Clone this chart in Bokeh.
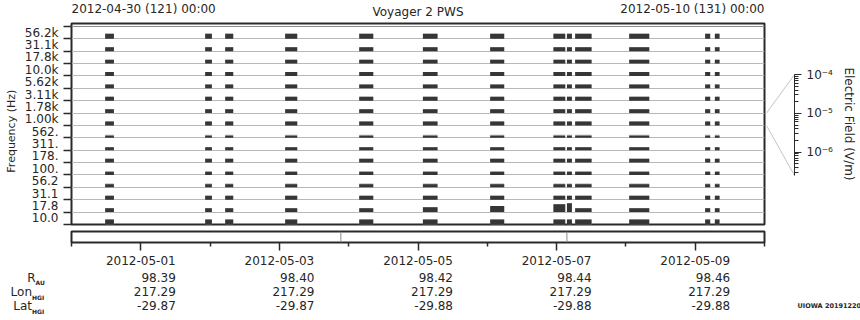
import numpy as np
import pandas as pd
from bokeh.plotting import figure
from bokeh.models import (ColumnDataSource, FixedTicker, Range1d, DatetimeTickFormatter, Span)
from bokeh.core.properties import value
from bokeh.layouts import column, row
from bokeh.embed import file_html
from bokeh.resources import INLINE

# ---------------- data ----------------
CHANNEL_LABELS = ["10.0", "17.8", "31.1", "56.2", "100.", "178.", "311.", "562.",
                  "1.00k", "1.78k", "3.11k", "5.62k", "10.0k", "17.8k", "31.1k", "56.2k"]

BLOCK_START = ["2012-04-30 11:40", "2012-05-01 22:18", "2012-05-02 05:14", "2012-05-03 02:00",
               "2012-05-04 03:39", "2012-05-05 01:42", "2012-05-06 01:00", "2012-05-06 22:55",
               "2012-05-07 03:35", "2012-05-07 06:26", "2012-05-08 01:09", "2012-05-09 03:27",
               "2012-05-09 06:49"]
BLOCK_END = ["2012-04-30 14:41", "2012-05-02 00:37", "2012-05-02 08:00", "2012-05-03 06:10",
             "2012-05-04 08:30", "2012-05-05 06:45", "2012-05-06 05:51", "2012-05-07 02:59",
             "2012-05-07 05:18", "2012-05-07 12:06", "2012-05-08 08:05", "2012-05-09 05:11",
             "2012-05-09 08:25"]

# electric field per block (rows) and channel (columns, 10 Hz .. 56.2 kHz), in uV/m
EFIELD_UV = [
    [2.8, 1.7, 1.7, 1.1, 1.1, 1.7, 1.1, 0.66, 1.7, 1.7, 1.7, 1.7, 1.7, 1.7, 1.7, 2.8],
    [2.8, 1.7, 1.7, 1.1, 1.1, 1.7, 1.1, 0.66, 1.7, 1.7, 1.7, 1.7, 1.7, 1.7, 1.7, 2.8],
    [2.8, 1.7, 1.7, 1.1, 1.1, 1.7, 1.1, 0.66, 1.7, 1.7, 1.7, 1.7, 1.7, 1.7, 1.7, 2.8],
    [2.8, 1.7, 1.7, 1.1, 1.1, 1.7, 1.1, 0.66, 1.7, 1.7, 1.7, 1.7, 1.7, 1.7, 1.7, 2.8],
    [2.8, 1.7, 1.7, 1.1, 1.1, 1.7, 1.1, 0.66, 1.7, 1.7, 1.7, 1.7, 1.7, 1.7, 1.7, 2.8],
    [2.8, 2.8, 1.7, 1.1, 1.1, 1.7, 1.1, 0.66, 1.7, 1.7, 1.7, 1.7, 1.7, 1.7, 1.7, 2.8],
    [2.8, 4.6, 1.7, 1.1, 1.1, 1.7, 1.1, 0.66, 1.7, 1.7, 1.7, 1.7, 1.7, 1.7, 1.7, 2.8],
    [2.8, 12.0, 1.7, 1.1, 1.1, 1.7, 1.1, 0.66, 1.7, 1.7, 1.7, 1.7, 1.7, 1.7, 1.7, 2.8],
    [2.8, 19.0, 1.7, 1.1, 1.1, 1.7, 1.1, 0.66, 1.7, 1.7, 1.7, 1.7, 1.7, 1.7, 1.7, 2.8],
    [2.8, 1.7, 1.7, 1.1, 1.1, 1.7, 1.1, 0.66, 1.7, 1.7, 1.7, 1.7, 1.7, 1.7, 1.7, 2.8],
    [2.8, 1.7, 1.7, 1.1, 1.1, 1.7, 1.1, 0.66, 1.7, 1.7, 1.7, 1.7, 1.7, 1.7, 1.7, 2.8],
    [2.8, 1.7, 1.7, 1.1, 1.1, 1.7, 1.1, 0.66, 1.7, 1.7, 1.7, 1.7, 1.7, 1.7, 1.7, 2.8],
    [2.8, 1.7, 1.7, 1.1, 1.1, 1.7, 1.1, 0.66, 1.7, 1.7, 1.7, 1.7, 1.7, 1.7, 1.7, 2.8],
]
# lighter peak level per channel (drawn in grey behind the dark level), uV/m
PEAK_UV = [2.8, 1.7, 1.7, 1.7, 1.7, 1.7, 1.1, 1.1, 1.7, 1.7, 1.7, 1.7, 1.7, 1.7, 1.7, 2.8]

EPHEM_DATES = ["2012-05-01", "2012-05-03", "2012-05-05", "2012-05-07", "2012-05-09"]
R_AU = ["98.39", "98.40", "98.42", "98.44", "98.46"]
LON_HGI = ["217.29", "217.29", "217.29", "217.29", "217.29"]
LAT_HGI = ["-29.87", "-29.87", "-29.88", "-29.88", "-29.88"]
MINOR_DATES = ["2012-04-30", "2012-05-02", "2012-05-04", "2012-05-06", "2012-05-08", "2012-05-10"]
MARK_TIMES = ["2012-05-03 21:17", "2012-05-07 03:34"]

START_TEXT = "2012-04-30 (121) 00:00"
END_TEXT = "2012-05-10 (131) 00:00"
TITLE_TEXT = "Voyager 2 PWS"
STAMP_TEXT = "UIOWA 20191220"
Y_TITLE = "Frequency (Hz)"
EF_TITLE = "Electric Field (V/m)"

# ---------------- helpers / styling ----------------
def ms(s):
    return pd.Timestamp(s).value / 1e6

FONT = value("DejaVu Sans")
FONT_NAME = "DejaVu Sans"
TXT = "#262626"
DARK = "#363636"
T0, T1 = ms("2012-04-30"), ms("2012-05-10")
NCH = len(CHANNEL_LABELS)
Y_END = 16.24                     # a little headroom above the last channel band
BAND_LOG = (-6.6, -4.0)           # E-field range covered by one channel band

FRAME_L, FRAME_W, FRAME_R = 71, 693, 96
SPAN = T1 - T0
# range for full-width strips, so that T0/T1 fall at the same pixels as the main frame
full_range = Range1d(T0 - FRAME_L / FRAME_W * SPAN, T1 + FRAME_R / FRAME_W * SPAN)

def frac(uv):
    return (np.log10(uv * 1e-6) - BAND_LOG[0]) / (BAND_LOG[1] - BAND_LOG[0])

x_range = Range1d(T0, T1)

def strip(width, height, xr, **kw):
    f = figure(width=width, height=height, x_range=xr, y_range=Range1d(0, height),
               output_backend="svg", toolbar_location=None, x_axis_location=None,
               y_axis_location=None, min_border=0, **kw)
    f.outline_line_color = None
    f.grid.visible = False
    return f

# ---------------- header strip ----------------
HEAD_H = 20
ph = strip(860, HEAD_H, full_range)
hsrc = ColumnDataSource(dict(x=[T0, T1, (T0 + T1) / 2], y=[HEAD_H - 8.5, HEAD_H - 8.5, HEAD_H - 11],
                             t=[START_TEXT, END_TEXT, TITLE_TEXT],
                             a=["left", "right", "center"]))
ph.text(x="x", y="y", text="t", text_align="a", source=hsrc, text_baseline="middle",
        text_font=FONT, text_font_size="12px", text_color=TXT)

# ---------------- main spectrum panel ----------------
MAIN_H = 208
LBL_W = 18
pl = figure(width=LBL_W, height=MAIN_H, x_range=Range1d(0, LBL_W), y_range=Range1d(0, 201),
            output_backend="svg", toolbar_location=None, x_axis_location=None,
            y_axis_location=None, min_border_left=0, min_border_right=0,
            min_border_top=3, min_border_bottom=4)
pl.outline_line_color = None
pl.grid.visible = False
pl.text(x=[10.5], y=[93.3], text=[Y_TITLE], angle=np.pi / 2, text_align="center",
        text_baseline="middle", text_font=FONT, text_font_size="11px", text_color=TXT)

pa = figure(width=766 - LBL_W, height=MAIN_H, x_range=x_range, y_range=Range1d(0, Y_END),
            output_backend="svg", toolbar_location=None, x_axis_location=None,
            min_border_left=FRAME_L - LBL_W, min_border_right=2, min_border_top=3,
            min_border_bottom=4)
pa.outline_line_color = "#2a2a2a"
pa.outline_line_width = 2
pa.xgrid.visible = False
pa.ygrid.ticker = FixedTicker(ticks=list(range(NCH)))
pa.ygrid.grid_line_color = "#b8b8b8"
pa.ygrid.grid_line_width = 1
pa.add_layout(Span(location=NCH, dimension="width", line_color="#8a8a8a", line_width=1))

ax = pa.yaxis[0]
ax.ticker = FixedTicker(ticks=[i + 0.5 for i in range(NCH)], minor_ticks=list(range(NCH + 1)))
ax.major_label_overrides = {i + 0.5: lab for i, lab in enumerate(CHANNEL_LABELS)}
ax.major_tick_out = 0
ax.major_tick_in = 0
ax.minor_tick_out = 8
ax.minor_tick_in = 0
ax.minor_tick_line_color = "#2a2a2a"
ax.minor_tick_line_width = 1.5
ax.axis_line_color = None
ax.major_label_standoff = 5
ax.major_label_text_font = FONT_NAME
ax.major_label_text_font_size = "12px"
ax.major_label_text_color = TXT

lx, rx, bt, tp_dark, tp_peak = [], [], [], [], []
for b in range(len(BLOCK_START)):
    for c in range(NCH):
        lx.append(ms(BLOCK_START[b]))
        rx.append(ms(BLOCK_END[b]))
        bt.append(c)
        tp_dark.append(c + frac(EFIELD_UV[b][c]))
        tp_peak.append(c + frac(max(PEAK_UV[c], EFIELD_UV[b][c])))
src = ColumnDataSource(dict(left=lx, right=rx, bottom=bt, top=tp_dark, peak=tp_peak))
pa.quad(left="left", right="right", bottom="bottom", top="peak", source=src,
        fill_color="#a8a8a8", line_color=None)
pa.quad(left="left", right="right", bottom="bottom", top="top", source=src,
        fill_color=DARK, line_color=None)

# ---------------- E-field scale panel ----------------
EF_RANGE = (-7.865, -2.683)
pc = figure(width=94, height=MAIN_H, x_range=Range1d(0, 1), y_range=Range1d(*EF_RANGE),
            output_backend="svg", toolbar_location=None, x_axis_location=None,
            y_axis_location="right",
            min_border_left=0, min_border_right=66, min_border_top=3, min_border_bottom=4)
pc.outline_line_color = None
pc.grid.visible = False
cax = pc.yaxis[0]
minor = [float(np.log10(k * 10.0 ** n)) for n in (-7, -6, -5) for k in range(2, 10)]
minor = [m for m in minor if BAND_LOG[0] <= m <= BAND_LOG[1]]
cax.ticker = FixedTicker(ticks=[-6, -5, -4], minor_ticks=minor)
cax.bounds = BAND_LOG
cax.major_label_overrides = {-6: "10⁻⁶", -5: "10⁻⁵", -4: "10⁻⁴"}
cax.axis_line_color = "#2a2a2a"
cax.major_tick_out = 7
cax.major_tick_in = 0
cax.minor_tick_out = 4
cax.minor_tick_in = 0
cax.major_tick_line_color = "#2a2a2a"
cax.minor_tick_line_color = "#2a2a2a"
cax.major_label_standoff = 5
cax.major_label_text_font = FONT_NAME
cax.major_label_text_font_size = "12px"
cax.major_label_text_color = TXT
cax.axis_label = EF_TITLE
cax.axis_label_text_font = FONT_NAME
cax.axis_label_text_font_size = "12px"
cax.axis_label_text_font_style = "normal"
cax.axis_label_text_color = TXT
cax.axis_label_standoff = 6

def ch2log(cv):
    return EF_RANGE[0] + cv / Y_END * (EF_RANGE[1] - EF_RANGE[0])

band = CHANNEL_LABELS.index("1.00k")
pc.segment(x0=[0, 0], y0=[ch2log(band + 1), ch2log(band)], x1=[1, 1],
           y1=[BAND_LOG[1], BAND_LOG[0]], line_color="#c4c4c4", line_width=1)

# ---------------- ephemeris bar with date axis ----------------
pb = figure(width=860, height=42, x_range=x_range, y_range=Range1d(0, 11),
            output_backend="svg", toolbar_location=None, y_axis_location=None,
            min_border_left=FRAME_L, min_border_right=FRAME_R, min_border_top=3, min_border_bottom=28)
pb.outline_line_color = "#2a2a2a"
pb.outline_line_width = 2
pb.grid.visible = False
bax = pb.xaxis[0]
bax.ticker = FixedTicker(ticks=[ms(d) for d in EPHEM_DATES], minor_ticks=[ms(d) for d in MINOR_DATES])
bax.formatter = DatetimeTickFormatter(days="%Y-%m-%d", months="%Y-%m-%d", hours="%Y-%m-%d")
bax.axis_line_color = None
bax.major_tick_out = 8
bax.major_tick_in = 0
bax.minor_tick_out = 4
bax.minor_tick_in = 0
bax.major_tick_line_color = "#2a2a2a"
bax.minor_tick_line_color = "#2a2a2a"
bax.major_tick_line_width = 1.5
bax.minor_tick_line_width = 1.5
bax.major_label_standoff = 5
bax.major_label_text_font = FONT_NAME
bax.major_label_text_font_size = "12px"
bax.major_label_text_color = TXT

pb.segment(x0=[ms(t) for t in MARK_TIMES], y0=0, x1=[ms(t) for t in MARK_TIMES], y1=11,
           line_color="#8c8c8c", line_width=1)

# ---------------- ephemeris values strip ----------------
FOOT_H = 50
pf = strip(860, FOOT_H, full_range)
ROW_Y = {"R": FOOT_H - 6.5, "Lon": FOOT_H - 21, "Lat": FOOT_H - 35.3}
xs, ys, ts = [], [], []
for key, vals in (("R", R_AU), ("Lon", LON_HGI), ("Lat", LAT_HGI)):
    for d, v in zip(EPHEM_DATES, vals):
        xs.append(ms(d)); ys.append(ROW_Y[key]); ts.append(v)
pf.text(x=xs, y=ys, text=ts, x_offset=35, text_align="right", text_baseline="middle",
        text_font=FONT, text_font_size="12px", text_color=TXT)

mains = ["R", "Lon", "Lat"]
subs = ["AU", "HGI", "HGI"]
offs = [-36, -39.5, -39.5]
pf.text(x=[T0] * 3, y=[ROW_Y[m] - 0.5 for m in mains], text=mains, x_offset=offs,
        text_align="right", text_baseline="middle", text_font=FONT, text_font_size="12px",
        text_color=TXT)
pf.text(x=[T0] * 3, y=[ROW_Y[m] - 5.5 for m in mains], text=subs, x_offset=offs,
        text_align="left", text_baseline="middle", text_font=FONT, text_font_size="6px",
        text_font_style="bold", text_color=TXT)
pf.text(x=[T1], y=[FOOT_H - 35.3], text=[STAMP_TEXT], x_offset=33, text_align="left",
        text_baseline="middle", text_font=FONT, text_font_size="6.5px",
        text_font_style="bold", text_color=TXT)

layout = column(row(ph), row(pl, pa, pc), row(pb), row(pf))
open("out.html", "w").write(file_html(layout, INLINE))
